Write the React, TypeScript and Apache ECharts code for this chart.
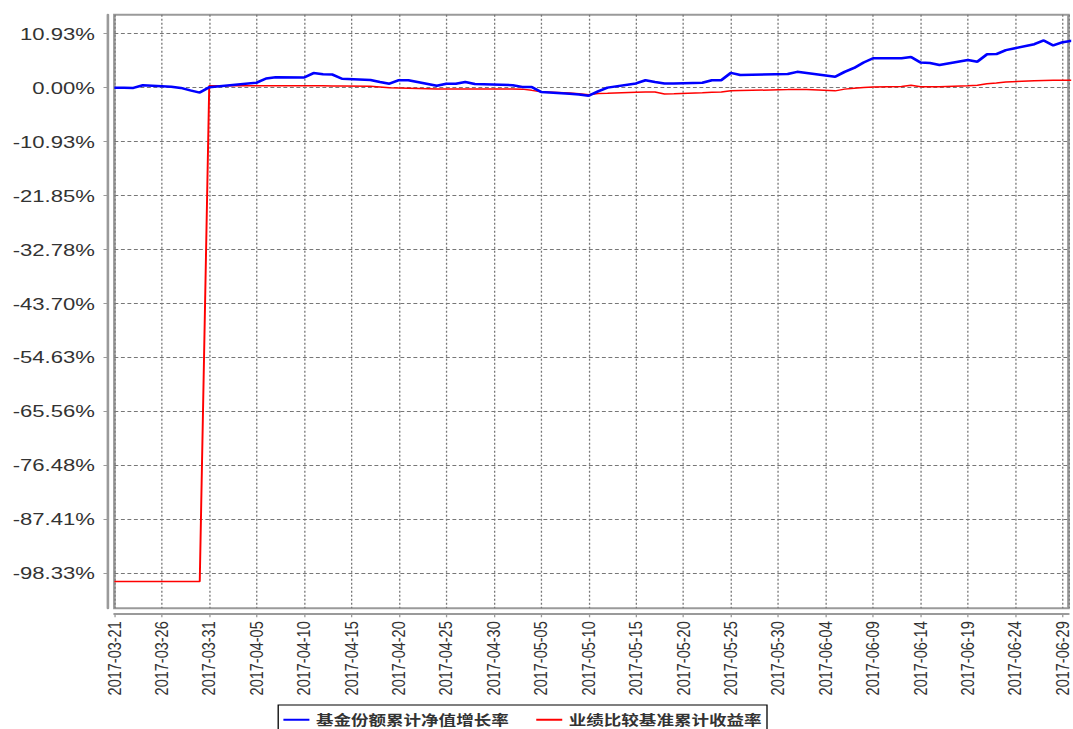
import React, { useEffect, useRef } from "react";
import * as echarts from "echarts";

// ---- data ----
const seriesNames = ["基金份额累计净值增长率", "业绩比较基准累计收益率"];

const tradeDates = [
  "2017-03-21", "2017-03-22", "2017-03-23", "2017-03-24", "2017-03-27", "2017-03-28", "2017-03-29", "2017-03-30", "2017-03-31",
  "2017-04-05", "2017-04-06", "2017-04-07", "2017-04-10", "2017-04-11", "2017-04-12", "2017-04-13", "2017-04-14",
  "2017-04-17", "2017-04-18", "2017-04-19", "2017-04-20", "2017-04-21", "2017-04-24", "2017-04-25", "2017-04-26", "2017-04-27", "2017-04-28",
  "2017-05-02", "2017-05-03", "2017-05-04", "2017-05-05", "2017-05-08", "2017-05-09", "2017-05-10", "2017-05-11", "2017-05-12",
  "2017-05-15", "2017-05-16", "2017-05-17", "2017-05-18", "2017-05-19", "2017-05-22", "2017-05-23", "2017-05-24", "2017-05-25", "2017-05-26",
  "2017-05-31", "2017-06-01", "2017-06-02", "2017-06-05", "2017-06-06", "2017-06-07", "2017-06-08", "2017-06-09",
  "2017-06-12", "2017-06-13", "2017-06-14", "2017-06-15", "2017-06-16", "2017-06-19", "2017-06-20", "2017-06-21", "2017-06-22", "2017-06-23",
  "2017-06-26", "2017-06-27", "2017-06-28", "2017-06-29", "2017-06-30",
];

const fundGrowth = [
  0.0, 0.0, -0.05, 0.48, 0.2, -0.05, -0.55, -1.0, 0.07,
  1.0, 1.85, 2.1, 2.05, 2.95, 2.7, 2.65, 1.8,
  1.55, 1.15, 0.8, 1.5, 1.5, 0.4, 0.8, 0.8, 1.15, 0.75,
  0.5, 0.15, 0.15, -0.9, -1.25, -1.4, -1.65, -0.75, 0.0,
  0.85, 1.5, 1.15, 0.85, 0.85, 1.0, 1.5, 1.5, 3.0, 2.55,
  2.75, 3.2, 2.95, 2.2, 3.2, 4.0, 5.1, 5.95,
  5.95, 6.2, 5.1, 5.0, 4.6, 5.6, 5.25, 6.75, 6.8, 7.6,
  8.8, 9.55, 8.55, 9.2, 9.5,
];

const benchmarkReturn = [
  -100, -100, -100, -100, -100, -100, -100, -100, 0.4,
  0.4, 0.4, 0.4, 0.4, 0.4, 0.4, 0.35, 0.35,
  0.3, 0.15, 0.0, -0.05, -0.1, -0.25, -0.25, -0.25, -0.25, -0.25,
  -0.25, -0.3, -0.55, -0.85, -1.1, -1.25, -1.45, -1.2, -1.15,
  -0.95, -0.9, -0.9, -1.3, -1.25, -1.05, -0.95, -0.9, -0.65, -0.6,
  -0.4, -0.35, -0.4, -0.65, -0.3, -0.1, 0.05, 0.15,
  0.25, 0.5, 0.2, 0.2, 0.2, 0.4, 0.5, 0.8, 0.95, 1.15,
  1.4, 1.45, 1.5, 1.5, 1.5,
];

const yTickValues = [10.93, 0.0, -10.93, -21.85, -32.78, -43.7, -54.63, -65.56, -76.48, -87.41, -98.33];

const START_DATE = "2017-03-21";
const DAY_MS = 86400000;
const startMs = Date.parse(START_DATE + "T00:00:00Z");
const dayIndex = (d: string) => Math.round((Date.parse(d + "T00:00:00Z") - startMs) / DAY_MS);
const dayLabel = (v: number) => new Date(startMs + Math.round(v) * DAY_MS).toISOString().slice(0, 10);

const STRETCH = 1.3;
const W = 1073 / STRETCH;
const H = 729;

export default function App() {
  const ref = useRef<HTMLDivElement>(null);

  useEffect(() => {
    if (!ref.current) return;
    const chart = echarts.init(ref.current, null, { renderer: "svg" });
    const blueData = tradeDates.map((d, i) => [dayIndex(d), fundGrowth[i]]);
    const redData = tradeDates.map((d, i) => [dayIndex(d), benchmarkReturn[i]]);
    const sans = "'Liberation Sans', Arial, sans-serif";

    chart.setOption({
      animation: false,
      backgroundColor: "#ffffff",
      grid: {
        left: 88,
        top: 14.7,
        width: 738,
        height: 593.6,
        show: true,
        borderColor: "#9a9a9a",
        borderWidth: 2,
        backgroundColor: "transparent",
      },
      xAxis: {
        type: "value",
        min: 0,
        max: 100.6,
        interval: 5,
        offset: 5,
        axisLine: { show: true, onZero: false, lineStyle: { color: "#9a9a9a", width: 2 } },
        axisTick: { show: true, length: 4, lineStyle: { color: "#9a9a9a" } },
        axisLabel: {
          rotate: 90,
          margin: 8,
          fontSize: 14.5,
          color: "#333",
          fontFamily: sans,
          showMaxLabel: false,
          formatter: (v: number) => dayLabel(v),
        },
        splitLine: { show: true, lineStyle: { color: "#777", type: [2, 2], width: 1 } },
      },
      yAxis: {
        type: "value",
        min: -105.42,
        max: 14.77,
        offset: 5,
        axisLine: { show: true, onZero: false, lineStyle: { color: "#9a9a9a", width: 2 } },
        axisTick: { show: true, length: 3.4, customValues: yTickValues, lineStyle: { color: "#9a9a9a" } },
        axisLabel: {
          margin: 10,
          fontSize: 17,
          color: "#333",
          fontFamily: sans,
          customValues: yTickValues,
          formatter: (v: number) => (Math.abs(v) < 1e-9 ? 0 : v).toFixed(2) + "%",
        },
        splitLine: { show: true, lineStyle: { color: "#777", type: [3, 2], width: 1 } },
      },
      legend: {
        left: 214,
        top: 705,
        orient: "horizontal",
        icon: "rect",
        itemWidth: 20,
        itemHeight: 2,
        itemGap: 21,
        padding: [8, 4, 8, 4],
        borderColor: "#000",
        borderWidth: 1,
        backgroundColor: "#fff",
        textStyle: {
          fontSize: 13.5,
          fontWeight: "bold",
          color: "#333",
          fontFamily: "'Noto Sans CJK SC', sans-serif",
        },
        data: seriesNames,
      },
      series: [
        {
          name: seriesNames[0],
          type: "line",
          data: blueData,
          showSymbol: false,
          symbol: "none",
          z: 3,
          lineStyle: { color: "#0000ff", width: 2.5 },
          itemStyle: { color: "#0000ff" },
        },
        {
          name: seriesNames[1],
          type: "line",
          data: redData,
          showSymbol: false,
          symbol: "none",
          z: 2,
          lineStyle: { color: "#ff0000", width: 1.5 },
          itemStyle: { color: "#ff0000" },
        },
      ],
    });
    return () => chart.dispose();
  }, []);

  return (
    <div
      style={{
        position: "absolute",
        left: 0,
        top: 0,
        width: 1073,
        height: H,
        overflow: "hidden",
        background: "#fff",
      }}
    >
      <div
        ref={ref}
        style={{
          width: W,
          height: H,
          transform: `scaleX(${STRETCH})`,
          transformOrigin: "0 0",
        }}
      />
    </div>
  );
}
